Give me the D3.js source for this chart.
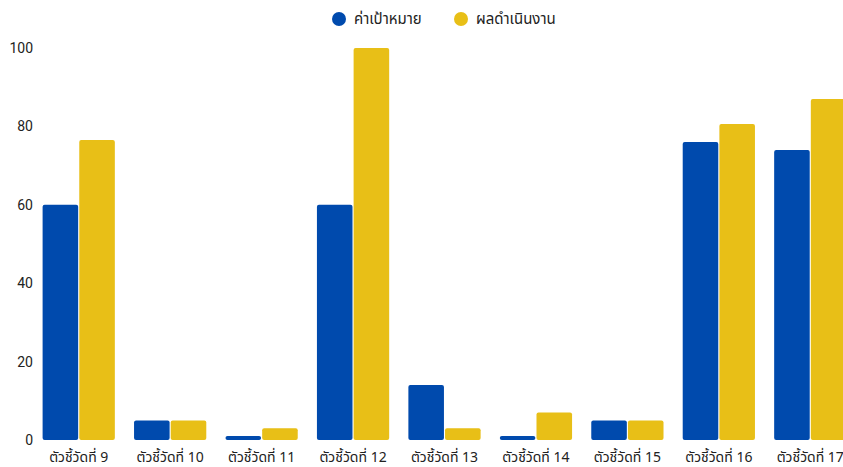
<!DOCTYPE html>
<html>
<head>
<meta charset="utf-8">
<script src="https://cdn.jsdelivr.net/npm/d3@7"></script>
<style>
  body { margin: 0; background: #fff; }
  text { font-family: "Noto Sans Thai", "Noto Sans", "DejaVu Sans", sans-serif; }
</style>
</head>
<body>
<div id="chart"></div>
<script>
// data
const categories = ["ตัวชี้วัดที่ 9", "ตัวชี้วัดที่ 10", "ตัวชี้วัดที่ 11", "ตัวชี้วัดที่ 12", "ตัวชี้วัดที่ 13",
                    "ตัวชี้วัดที่ 14", "ตัวชี้วัดที่ 15", "ตัวชี้วัดที่ 16", "ตัวชี้วัดที่ 17"];
const seriesNames = ["ค่าเป้าหมาย", "ผลดำเนินงาน"];
const targetValues = [60, 5, 1, 60, 14, 1, 5, 76, 74];
const resultValues = [76.5, 5, 3, 100, 3, 7, 5, 80.6, 87];
const yTicks = [0, 20, 40, 60, 80, 100];
const colors = ["#004aad", "#e8bf17"];

const width = 843, height = 467,
      margin = ({top: 48, right: 0, bottom: 27, left: 33});

const data = categories.map((c, i) => ({cat: c, values: [targetValues[i], resultValues[i]]}));

let svg = d3.select("#chart")
    .append("svg")
    .attr("width", width)
    .attr("height", height)
    .attr("viewBox", [0, 0, width, height]);

let x = d3.scaleBand()
    .domain(categories)
    .range([margin.left, 856])
    .paddingInner(0.21)
    .paddingOuter(0.105);

let x1 = d3.scaleBand()
    .domain([0, 1])
    .range([0, x.bandwidth()])
    .paddingInner(0.03);

let y = d3.scaleLinear()
    .domain([0, 100])
    .range([height - margin.bottom, margin.top]);

// y axis labels only, no lines
svg.append("g")
    .attr("transform", `translate(${margin.left}, 0)`)
    .call(d3.axisLeft(y).tickValues(yTicks).tickSize(0).tickPadding(0))
    .call(g => g.select(".domain").remove())
    .call(g => g.selectAll("text")
        .style("font-family", "Roboto, 'Noto Sans', sans-serif")
        .style("font-size", "14px")
        .attr("fill", "#222"));

// x axis labels
svg.append("g")
    .attr("transform", `translate(0, ${height - margin.bottom})`)
    .call(d3.axisBottom(x).tickSize(0).tickPadding(12))
    .call(g => g.select(".domain").remove())
    .call(g => g.selectAll("text")
        .style("font-size", "14px")
        .attr("fill", "#222"));

// bars
let group = svg.selectAll(".grp")
    .data(data)
    .join("g")
    .attr("class", "grp")
    .attr("transform", d => `translate(${x(d.cat)}, 0)`);

group.selectAll("rect")
    .data(d => d.values.map((v, k) => ({k: k, v: v})))
    .join("rect")
    .attr("x", d => x1(d.k))
    .attr("width", x1.bandwidth())
    .attr("y", d => y(d.v))
    .attr("height", d => y(0) - y(d.v))
    .attr("rx", 2)
    .attr("fill", d => colors[d.k]);

// legend
const legendX = [339, 461];
let legend = svg.selectAll(".legend")
    .data(seriesNames)
    .join("g")
    .attr("class", "legend")
    .attr("transform", (d, i) => `translate(${legendX[i]}, 19)`);

legend.append("circle")
    .attr("r", 7)
    .attr("fill", (d, i) => colors[i]);

legend.append("text")
    .attr("x", 15)
    .attr("dy", "0.35em")
    .style("font-size", "15px")
    .attr("fill", "#222")
    .text(d => d);
</script>
</body>
</html>
